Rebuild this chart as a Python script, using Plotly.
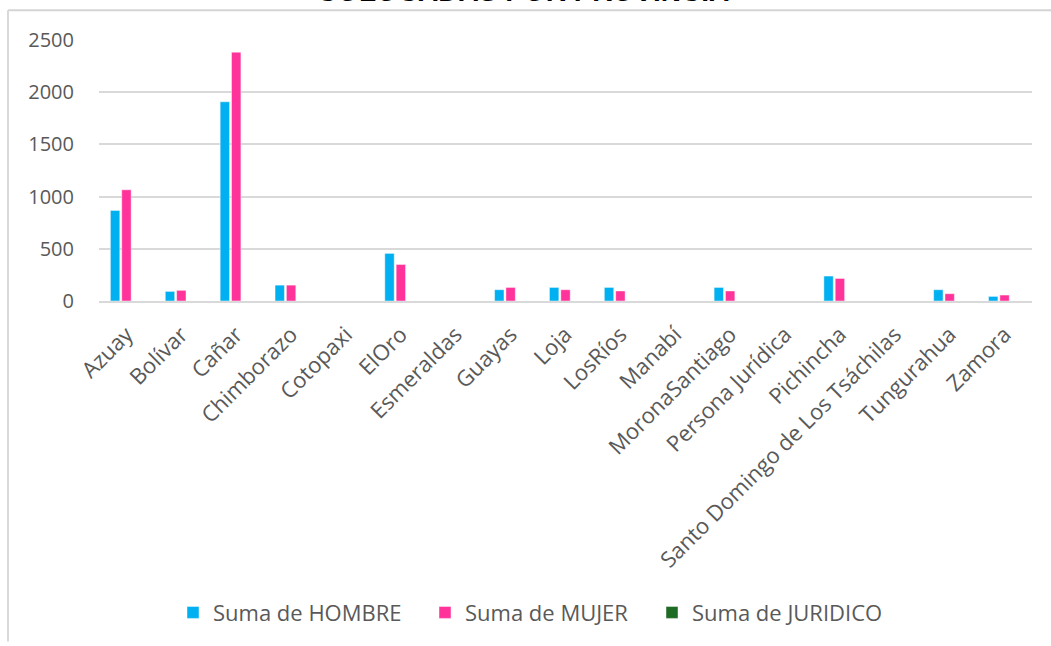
import plotly.graph_objects as go

categories = ["Azuay", "Bolívar", "Cañar", "Chimborazo", "Cotopaxi", "ElOro", "Esmeraldas",
              "Guayas", "Loja", "LosRíos", "Manabí", "MoronaSantiago", "Persona Jurídica",
              "Pichincha", "Santo Domingo de Los Tsáchilas", "Tungurahua", "Zamora"]
hombre = [868, 92, 1908, 152, 0, 456, 0, 108, 130, 130, 0, 130, 0, 239, 0, 108, 44]
mujer = [1065, 102, 2383, 152, 0, 350, 0, 130, 108, 96, 0, 96, 0, 216, 0, 70, 57]
juridico = [0, 0, 0, 0, 0, 0, 0, 0, 0, 0, 0, 0, 0, 0, 0, 0, 0]
y_ticks = [0, 500, 1000, 1500, 2000, 2500]

FONT = "Open Sans"
GREY = "#595959"

fig = go.Figure()
edge = dict(color="rgba(255,255,255,0.45)", width=1)
fig.add_trace(go.Bar(name="Suma de HOMBRE", x=categories, y=hombre, legendwidth=207,
                     marker=dict(color="#00B0F0", line=edge)))
fig.add_trace(go.Bar(name="Suma de MUJER", x=categories, y=mujer, legendwidth=182,
                     marker=dict(color="#FF3399", line=edge)))
fig.add_trace(go.Bar(name="Suma de JURIDICO", x=categories, y=juridico, legendwidth=210,
                     marker=dict(color="#1E6B24", line=edge)))

L, R, T, B = 99, 19, 40, 343
W, H = 1051, 646
pw = W - L - R
ph = H - T - B

def px_x(px):
    return (px - L) / pw

def px_y(py):
    return (H - B - py) / ph

fig.update_layout(
    width=W, height=H,
    margin=dict(l=L, r=R, t=T, b=B),
    paper_bgcolor="white", plot_bgcolor="white",
    barmode="group", bargap=0.38, bargroupgap=0.17,
    font=dict(family=FONT, color=GREY, size=20),
    showlegend=True,
    legend=dict(orientation="h", x=px_x(173), xanchor="left", y=px_y(617), yanchor="middle",
                font=dict(family=FONT, size=22, color=GREY), bgcolor="rgba(0,0,0,0)"),
    xaxis=dict(type="category", tickangle=-45, showgrid=False, ticks="",
               showline=True, linecolor="#d9d9d9", linewidth=2, ticklabelstandoff=10,
               tickfont=dict(family=FONT, size=22, color=GREY)),
    yaxis=dict(range=[0, 2500], tickvals=y_ticks, showgrid=True, gridcolor="#d9d9d9",
               gridwidth=1.5, zeroline=False, showline=False, ticks="",
               tickfont=dict(family=FONT, size=20, color=GREY), ticklabelstandoff=24),
    shapes=[
        dict(type="line", xref="paper", yref="paper", x0=px_x(8), x1=px_x(1051),
             y0=px_y(10), y1=px_y(10), line=dict(color="#d4d4d4", width=2)),
        dict(type="line", xref="paper", yref="paper", x0=px_x(8), x1=px_x(8),
             y0=px_y(10), y1=px_y(646), line=dict(color="#d9d9d9", width=2)),
    ],
    annotations=[
        dict(text="<b>COLOCADAS POR PROVINCIA</b>", xref="paper", yref="paper",
             x=px_x(523), y=px_y(9), xanchor="center", yanchor="bottom", showarrow=False,
             font=dict(family="Liberation Sans", size=28, color="#000000"))
    ],
)

fig.write_html("out.html", config={"displayModeBar": False},
               post_script="document.body.style.margin='0';document.body.style.overflow='hidden';")
